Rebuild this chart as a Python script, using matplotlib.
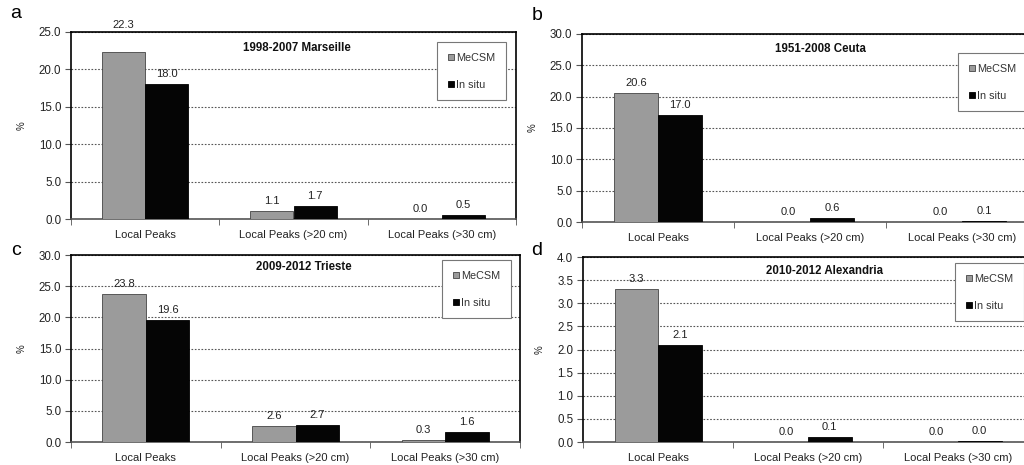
import matplotlib
matplotlib.use("Agg")
import matplotlib.pyplot as plt
from matplotlib.patches import Patch
import numpy as np

plt.rcParams['font.family'] = ['Liberation Sans', 'DejaVu Sans']

categories = ["Local Peaks", "Local Peaks (>20 cm)", "Local Peaks (>30 cm)"]
series_names = ["MeCSM", "In situ"]

titles = ["1998-2007 Marseille", "1951-2008 Ceuta", "2009-2012 Trieste", "2010-2012 Alexandria"]
panel_letters = ["a", "b", "c", "d"]

mecsm_a = [22.3, 1.1, 0.0]
insitu_a = [18.0, 1.7, 0.5]
mecsm_b = [20.6, 0.0, 0.0]
insitu_b = [17.0, 0.6, 0.1]
mecsm_c = [23.8, 2.6, 0.3]
insitu_c = [19.6, 2.7, 1.6]
mecsm_d = [3.3, 0.0, 0.0]
insitu_d = [2.1, 0.1, 0.03]

ymax = [25.0, 30.0, 30.0, 4.0]
ystep = [5.0, 5.0, 5.0, 0.5]

W, H = 1024, 465
fig = plt.figure(figsize=(W / 100, H / 100), dpi=100)

# axes rectangles in pixels: left, right, top, bottom
rects = [(71, 516, 32, 219), (582, 1038, 34, 222), (71, 520, 255, 442), (583, 1033, 257, 442)]
legend_boxes = [(437, 42), (958, 53), (442, 260), (955, 263)]  # left, top in px
title_pos = [(297, 48), (820, 49), (304, 267), (825, 271)]
letter_pos = [(16, 14), (537, 16), (16, 250), (537, 250)]

data = [(mecsm_a, insitu_a), (mecsm_b, insitu_b), (mecsm_c, insitu_c), (mecsm_d, insitu_d)]
gray = "#9b9b9b"
black = "#050505"
txtc = "#222222"
width = 0.29

for i, (l, r, t, b) in enumerate(rects):
    ax = fig.add_axes([l / W, (H - b) / H, (r - l) / W, (b - t) / H])
    x = np.arange(len(categories))
    m, s = data[i]
    bars1 = ax.bar(x - width / 2, m, width, color=gray, edgecolor="#444444", linewidth=0.6, zorder=3)
    bars2 = ax.bar(x + width / 2, s, width, color=black, edgecolor="black", linewidth=0.6, zorder=3)
    ax.set_xlim(-0.5, len(categories) - 0.5)
    ax.set_ylim(0, ymax[i])
    ticks = np.arange(0, ymax[i] + ystep[i] / 2, ystep[i])
    ax.set_yticks(ticks)
    ax.set_yticklabels([f"{v:.1f}" for v in ticks], fontsize=8.3, color=txtc)
    ax.set_xticks(x)
    ax.set_xticklabels(categories, fontsize=8, color=txtc)
    ax.tick_params(axis="x", which="major", length=0, pad=8)
    ax.set_xticks(np.arange(-0.5, len(categories), 1.0), minor=True)
    ax.tick_params(axis="x", which="minor", length=4, color="#555555", direction="out")
    ax.tick_params(axis="y", length=4, color="#555555", pad=3)
    ax.grid(axis="y", linestyle=(0, (1.5, 1.5)), color="#555555", linewidth=0.8, zorder=0)
    for sp in ax.spines.values():
        sp.set_color("black")
        sp.set_linewidth(1.2)
    ax.spines["bottom"].set_color("#555555")
    ax.set_ylabel("%", fontsize=7, color=txtc, labelpad=9)

    for j, (bar, v) in enumerate(zip(bars1, m)):
        off = 27 if (i == 0 and j == 0) else 10
        ax.annotate(f"{v:.1f}", (bar.get_x() + bar.get_width() / 2, bar.get_height()),
                    xytext=(0, off), textcoords="offset pixels", ha="center", va="center",
                    fontsize=8, color=txtc, annotation_clip=False)
    for bar, v in zip(bars2, s):
        ax.annotate(f"{v:.1f}", (bar.get_x() + bar.get_width() / 2, bar.get_height()),
                    xytext=(0, 10), textcoords="offset pixels", ha="center", va="center",
                    fontsize=8, color=txtc, annotation_clip=False)

    tx, ty = title_pos[i]
    fig.text(tx / W, 1 - ty / H, titles[i], ha="center", va="center", fontsize=8.3,
             fontweight="bold", color="#111111")
    lx, ly = letter_pos[i]
    fig.text(lx / W, 1 - ly / H, panel_letters[i], ha="center", va="center", fontsize=14, color="black")

    handles = [Patch(facecolor=gray, edgecolor="#444444", linewidth=0.6),
               Patch(facecolor=black, edgecolor="black", linewidth=0.6)]
    bx, by = legend_boxes[i]
    leg = ax.legend(handles, series_names, loc="upper left",
                    bbox_to_anchor=(bx / W, 1 - by / H), bbox_transform=fig.transFigure,
                    fontsize=7.8, handlelength=0.55, handleheight=0.55, handletextpad=0.2,
                    labelspacing=1.55, borderpad=1.0, borderaxespad=0, fancybox=False,
                    framealpha=1, edgecolor="#777777")
    leg.get_frame().set_linewidth(0.8)
    for tt in leg.get_texts():
        tt.set_color("#333333")

fig.savefig("out.png", dpi=100)
